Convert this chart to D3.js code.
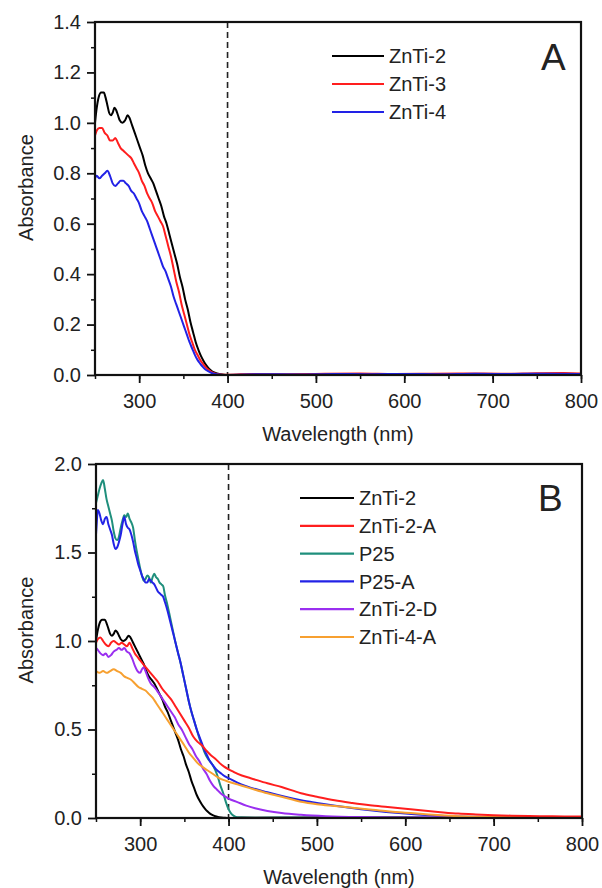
<!DOCTYPE html>
<html>
<head>
<meta charset="utf-8">
<script src="https://cdn.jsdelivr.net/npm/d3@7"></script>
<style>
  body { margin: 0; background: #fff; }
  svg text { font-family: "Liberation Sans", Arial, sans-serif; fill: #222; }
  .axis path, .axis line { stroke: #111; }
</style>
</head>
<body>
<div id="graphic"></div>
<script>
// ---- DATA ----
// [wavelength nm, absorbance]
var znti2 = [[250,1.00],[252,1.06],[254,1.10],[257,1.12],[260,1.12],[262,1.10],[264,1.07],[266,1.04],[268,1.03],[270,1.04],[272,1.06],[274,1.05],[276,1.03],[278,1.01],[281,1.00],[284,1.01],[287,1.03],[289,1.02],[292,0.99],[295,0.96],[298,0.93],[301,0.90],[304,0.87],[307,0.83],[310,0.80],[313,0.78],[316,0.76],[319,0.73],[322,0.70],[325,0.67],[328,0.63],[331,0.60],[334,0.56],[337,0.52],[340,0.48],[343,0.44],[346,0.39],[349,0.35],[352,0.30],[355,0.26],[358,0.21],[361,0.17],[364,0.13],[367,0.10],[370,0.075],[373,0.055],[376,0.038],[379,0.025],[382,0.016],[385,0.010],[388,0.006],[392,0.003],[396,0.001],[400,0.0],[430,0.002],[460,0.001],[500,0.003],[540,0.002],[580,0.003],[620,0.002],[660,0.004],[700,0.003],[740,0.004],[780,0.005],[800,0.004]];

var znti3 = [[250,0.95],[252,0.97],[255,0.98],[258,0.98],[261,0.96],[264,0.95],[267,0.93],[270,0.93],[273,0.94],[276,0.92],[279,0.90],[282,0.89],[285,0.88],[288,0.87],[291,0.86],[294,0.84],[297,0.82],[300,0.80],[303,0.77],[306,0.75],[309,0.72],[312,0.70],[315,0.68],[318,0.65],[321,0.63],[324,0.61],[327,0.59],[330,0.55],[333,0.51],[336,0.47],[339,0.42],[342,0.37],[345,0.33],[348,0.28],[351,0.24],[354,0.20],[357,0.16],[360,0.13],[363,0.10],[366,0.08],[369,0.06],[372,0.045],[375,0.032],[378,0.022],[381,0.014],[384,0.008],[388,0.004],[392,0.002],[400,0.001],[430,0.004],[470,0.003],[510,0.005],[550,0.006],[590,0.004],[630,0.005],[670,0.006],[710,0.005],[750,0.007],[780,0.008],[800,0.006]];

var znti4 = [[250,0.78],[252,0.79],[255,0.78],[258,0.79],[261,0.80],[264,0.81],[267,0.79],[270,0.76],[273,0.75],[276,0.76],[279,0.77],[282,0.77],[285,0.76],[288,0.75],[291,0.73],[294,0.72],[297,0.70],[300,0.68],[303,0.65],[306,0.63],[309,0.61],[312,0.58],[315,0.55],[318,0.52],[321,0.49],[324,0.46],[327,0.43],[330,0.41],[333,0.38],[336,0.35],[339,0.31],[342,0.28],[345,0.25],[348,0.22],[351,0.19],[354,0.16],[357,0.13],[360,0.105],[363,0.08],[366,0.06],[369,0.045],[372,0.032],[375,0.022],[378,0.015],[382,0.008],[386,0.004],[390,0.002],[400,0.0],[440,0.003],[480,0.002],[520,0.004],[560,0.003],[600,0.004],[640,0.003],[680,0.005],[720,0.004],[760,0.005],[800,0.004]];

var znti2A = [[250,0.99],[252,1.01],[255,1.02],[258,1.00],[261,0.98],[264,0.97],[267,0.99],[270,1.00],[273,0.99],[276,0.98],[279,0.99],[282,0.98],[285,0.97],[288,0.99],[291,0.96],[294,0.93],[297,0.91],[300,0.89],[305,0.86],[310,0.83],[315,0.80],[320,0.77],[325,0.73],[330,0.70],[335,0.67],[340,0.63],[345,0.59],[350,0.55],[355,0.51],[360,0.46],[365,0.43],[370,0.41],[375,0.38],[380,0.355],[385,0.335],[390,0.31],[395,0.29],[400,0.275],[406,0.26],[415,0.24],[425,0.225],[444,0.196],[460,0.175],[482,0.14],[500,0.12],[520,0.10],[540,0.085],[560,0.072],[580,0.062],[600,0.052],[620,0.042],[640,0.033],[660,0.025],[680,0.02],[700,0.016],[720,0.013],[740,0.011],[760,0.01],[780,0.009],[800,0.009]];

var p25 = [[250,1.78],[252,1.82],[254,1.86],[256,1.89],[258,1.91],[260,1.86],[262,1.80],[264,1.76],[266,1.72],[268,1.68],[270,1.62],[272,1.58],[274,1.57],[276,1.59],[278,1.64],[280,1.68],[282,1.71],[284,1.70],[286,1.72],[288,1.69],[290,1.67],[292,1.64],[294,1.57],[296,1.51],[298,1.46],[300,1.41],[302,1.37],[304,1.34],[306,1.35],[308,1.37],[310,1.36],[312,1.33],[314,1.36],[316,1.38],[318,1.36],[320,1.35],[322,1.33],[324,1.32],[326,1.31],[328,1.26],[331,1.20],[334,1.13],[337,1.06],[340,0.99],[343,0.93],[346,0.87],[349,0.80],[352,0.73],[355,0.66],[358,0.60],[361,0.55],[364,0.50],[367,0.45],[370,0.41],[373,0.37],[376,0.34],[379,0.32],[382,0.30],[385,0.27],[388,0.23],[391,0.18],[394,0.14],[397,0.09],[400,0.05],[403,0.025],[406,0.012],[410,0.004],[430,0.002],[480,0.003],[530,0.002],[580,0.003],[630,0.002],[680,0.003],[730,0.002],[800,0.003]];

var p25A = [[250,1.60],[251,1.68],[252,1.74],[254,1.72],[256,1.68],[258,1.66],[260,1.69],[262,1.70],[264,1.66],[266,1.63],[268,1.60],[270,1.55],[272,1.52],[274,1.53],[276,1.56],[278,1.60],[280,1.66],[282,1.70],[284,1.66],[286,1.64],[288,1.63],[290,1.60],[292,1.56],[294,1.51],[296,1.47],[298,1.43],[300,1.40],[302,1.37],[304,1.35],[306,1.33],[308,1.33],[310,1.35],[312,1.34],[314,1.33],[316,1.32],[318,1.30],[320,1.28],[322,1.27],[324,1.26],[326,1.25],[328,1.22],[331,1.17],[334,1.11],[337,1.05],[340,0.99],[343,0.93],[346,0.87],[349,0.80],[352,0.73],[355,0.66],[358,0.60],[361,0.55],[364,0.50],[367,0.46],[370,0.42],[373,0.38],[376,0.35],[379,0.32],[382,0.30],[385,0.28],[388,0.265],[392,0.25],[396,0.235],[400,0.225],[410,0.20],[420,0.18],[444,0.145],[482,0.10],[500,0.085],[550,0.05],[600,0.025],[650,0.01],[700,0.006],[750,0.005],[800,0.006]];

var znti2D = [[250,0.96],[252,0.95],[255,0.93],[258,0.92],[261,0.93],[264,0.91],[267,0.92],[270,0.94],[273,0.95],[276,0.96],[279,0.95],[282,0.96],[285,0.94],[288,0.93],[291,0.90],[294,0.86],[297,0.83],[300,0.82],[302,0.84],[304,0.85],[306,0.83],[309,0.79],[312,0.76],[316,0.74],[319,0.72],[323,0.69],[327,0.66],[331,0.63],[335,0.60],[339,0.57],[343,0.53],[347,0.50],[351,0.46],[355,0.42],[359,0.39],[363,0.35],[367,0.32],[371,0.28],[375,0.25],[379,0.21],[383,0.18],[387,0.16],[391,0.14],[395,0.125],[400,0.11],[410,0.09],[420,0.07],[430,0.055],[444,0.04],[460,0.028],[482,0.018],[510,0.01],[550,0.005],[600,0.003],[650,0.004],[700,0.003],[750,0.005],[800,0.006]];

var znti4A = [[250,0.83],[254,0.82],[258,0.83],[262,0.82],[266,0.83],[270,0.84],[274,0.83],[278,0.82],[282,0.80],[286,0.79],[290,0.78],[294,0.76],[298,0.74],[302,0.73],[306,0.72],[310,0.70],[314,0.68],[318,0.65],[322,0.62],[326,0.59],[330,0.56],[334,0.53],[338,0.50],[342,0.47],[346,0.44],[350,0.41],[355,0.37],[360,0.34],[365,0.31],[370,0.29],[376,0.27],[382,0.25],[388,0.23],[394,0.215],[400,0.205],[410,0.19],[420,0.175],[430,0.16],[444,0.14],[460,0.12],[482,0.092],[500,0.078],[520,0.068],[540,0.058],[560,0.048],[580,0.038],[600,0.03],[620,0.022],[640,0.015],[660,0.01],[680,0.007],[700,0.006],[740,0.005],[800,0.005]];

var seriesA = [
  {name: "ZnTi-2", color: "#000000", values: znti2},
  {name: "ZnTi-3", color: "#ff1e1e", values: znti3},
  {name: "ZnTi-4", color: "#2222e6", values: znti4}
];
var seriesB = [
  {name: "ZnTi-2", color: "#000000", values: znti2},
  {name: "ZnTi-2-A", color: "#ff1e1e", values: znti2A},
  {name: "P25", color: "#1f8f7c", values: p25},
  {name: "P25-A", color: "#2222e6", values: p25A},
  {name: "ZnTi-2-D", color: "#9a2ff0", values: znti2D},
  {name: "ZnTi-4-A", color: "#f7a030", values: znti4A}
];
// draw order in B (black and teal under the others)
var drawOrderB = ["P25", "P25-A", "ZnTi-2", "ZnTi-2-D", "ZnTi-4-A", "ZnTi-2-A"];

var xTicks = [300, 400, 500, 600, 700, 800];
var yTicksA = [0.0, 0.2, 0.4, 0.6, 0.8, 1.0, 1.2, 1.4];
var yTicksB = [0.0, 0.5, 1.0, 1.5, 2.0];

var svg = d3.select("#graphic").append("svg")
    .attr("width", 602)
    .attr("height", 888);

svg.append("rect").attr("width", 602).attr("height", 888).attr("fill", "#fff");

function drawPanel(opt) {
    var g = svg.append("g");
    var x = d3.scaleLinear().domain([250, 800]).range([opt.left, opt.right]);
    var y = d3.scaleLinear().domain(opt.yDomain).range([opt.bottom, opt.top]);

    var clipId = "clip" + opt.letter;
    g.append("clipPath").attr("id", clipId)
      .append("rect")
        .attr("x", opt.left).attr("y", opt.top - 2)
        .attr("width", opt.right - opt.left).attr("height", opt.bottom - opt.top + 2);

    // dashed 400 nm marker
    g.append("line")
        .attr("x1", x(400)).attr("x2", x(400))
        .attr("y1", opt.top).attr("y2", opt.bottom)
        .attr("stroke", "#222")
        .attr("stroke-width", 1.6)
        .attr("stroke-dasharray", "6,4");

    var line = d3.line()
        .x(d => x(d[0]))
        .y(d => y(d[1]))
        .curve(d3.curveMonotoneX);

    var order = opt.order || opt.series.map(s => s.name);
    order.forEach(function (nm) {
        var s = opt.series.find(t => t.name == nm);
        g.append("path")
            .datum(s.values)
            .attr("clip-path", "url(#" + clipId + ")")
            .attr("fill", "none")
            .attr("stroke", s.color)
            .attr("stroke-width", 2)
            .attr("stroke-linejoin", "round")
            .attr("d", line);
    });

    // minor ticks
    g.append("g")
        .attr("class", "axis")
        .attr("transform", "translate(0," + opt.bottom + ")")
        .call(d3.axisBottom(x).tickValues(d3.range(250, 801, 50)).tickSize(4).tickFormat("").tickSizeOuter(0))
        .call(a => a.select(".domain").remove())
        .selectAll("line").attr("stroke-width", 1.5);
    g.append("g")
        .attr("class", "axis")
        .attr("transform", "translate(" + opt.left + ",0)")
        .call(d3.axisLeft(y).tickValues(opt.yMinor).tickSize(4).tickFormat("").tickSizeOuter(0))
        .call(a => a.select(".domain").remove())
        .selectAll("line").attr("stroke-width", 1.5);

    // major ticks + labels
    var xa = g.append("g")
        .attr("class", "axis")
        .attr("transform", "translate(0," + opt.bottom + ")")
        .call(d3.axisBottom(x).tickValues(xTicks).tickSize(8).tickPadding(11).tickSizeOuter(0));
    xa.select(".domain").remove();
    xa.selectAll("line").attr("stroke-width", 1.8);
    xa.selectAll("text").attr("font-size", 20).attr("fill", "#2a2a2a");

    var ya = g.append("g")
        .attr("class", "axis")
        .attr("transform", "translate(" + opt.left + ",0)")
        .call(d3.axisLeft(y).tickValues(opt.yTicks).tickSize(8).tickPadding(6)
              .tickFormat(d3.format(".1f")).tickSizeOuter(0));
    ya.select(".domain").remove();
    ya.selectAll("line").attr("stroke-width", 1.8);
    ya.selectAll("text").attr("font-size", 20).attr("fill", "#2a2a2a");

    // frame
    g.append("rect")
        .attr("x", opt.left).attr("y", opt.top)
        .attr("width", opt.right - opt.left).attr("height", opt.bottom - opt.top)
        .attr("fill", "none").attr("stroke", "#111").attr("stroke-width", 2.2);

    // axis titles
    g.append("text")
        .attr("x", (opt.left + opt.right) / 2)
        .attr("y", opt.bottom + 66)
        .attr("text-anchor", "middle")
        .attr("font-size", 20)
        .text("Wavelength (nm)");
    g.append("text")
        .attr("transform", "translate(33," + (opt.top + opt.bottom) / 2 - 11 + ") rotate(-90)")
        .attr("transform", "translate(33," + ((opt.top + opt.bottom) / 2 - 11) + ") rotate(-90)")
        .attr("text-anchor", "middle")
        .attr("font-size", 20)
        .text("Absorbance");

    // panel letter
    g.append("text")
        .attr("x", opt.letterX).attr("y", opt.letterY)
        .attr("font-size", 37)
        .attr("fill", "#111")
        .text(opt.letter);

    // legend
    var lg = g.append("g");
    opt.series.forEach(function (s, i) {
        var ly = opt.legendY + i * opt.legendStep;
        lg.append("line")
            .attr("x1", opt.legendX).attr("x2", opt.legendX + opt.legendLen)
            .attr("y1", ly).attr("y2", ly)
            .attr("stroke", s.color).attr("stroke-width", 2.2);
        lg.append("text")
            .attr("x", opt.legendX + opt.legendLen + 5)
            .attr("y", ly)
            .attr("dy", "0.36em")
            .attr("font-size", 20)
            .text(s.name);
    });
}

drawPanel({
    letter: "A", series: seriesA,
    left: 95, right: 581, top: 22, bottom: 375,
    yDomain: [0, 1.4], yTicks: yTicksA, yMinor: d3.range(0.1, 1.4, 0.2),
    letterX: 541, letterY: 70,
    legendX: 332, legendLen: 52, legendY: 56, legendStep: 28
});

drawPanel({
    letter: "B", series: seriesB, order: drawOrderB,
    left: 96, right: 582, top: 464, bottom: 818,
    yDomain: [0, 2.0], yTicks: yTicksB, yMinor: [0.25, 0.75, 1.25, 1.75],
    letterX: 538, letterY: 511,
    legendX: 300, legendLen: 54, legendY: 498, legendStep: 27.8
});
</script>
</body>
</html>
